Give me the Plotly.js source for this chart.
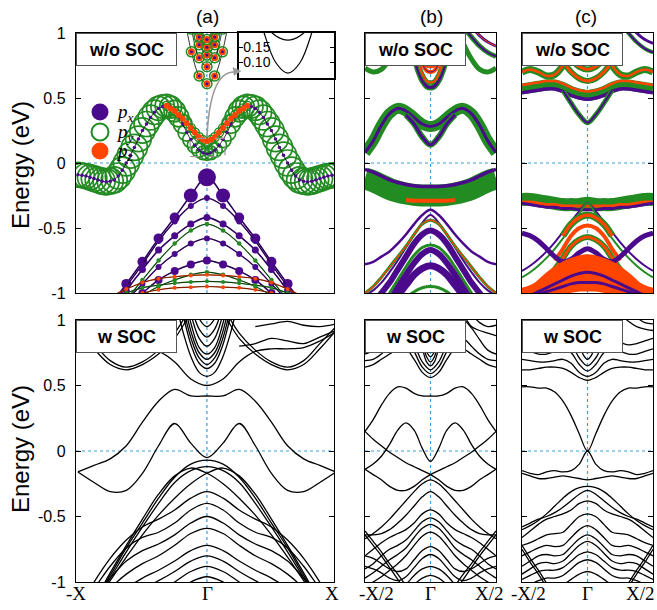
<!DOCTYPE html>
<html><head><meta charset="utf-8">
<script src="https://cdn.plot.ly/plotly-3.0.1.min.js"></script>
<style>html,body{margin:0;padding:0;background:#fff}#chart{width:657px;height:610px}</style>
</head><body><div id="chart"></div>
<script>
// ---------- k grids ----------
const K17 = [-1,-0.875,-0.75,-0.625,-0.5,-0.375,-0.25,-0.125,0,0.125,0.25,0.375,0.5,0.625,0.75,0.875,1];
const K65 = [-1,-0.96875,-0.9375,-0.90625,-0.875,-0.84375,-0.8125,-0.78125,-0.75,-0.71875,-0.6875,-0.65625,-0.625,-0.59375,-0.5625,-0.53125,-0.5,-0.46875,-0.4375,-0.40625,-0.375,-0.34375,-0.3125,-0.28125,-0.25,-0.21875,-0.1875,-0.15625,-0.125,-0.09375,-0.0625,-0.03125,0,0.03125,0.0625,0.09375,0.125,0.15625,0.1875,0.21875,0.25,0.28125,0.3125,0.34375,0.375,0.40625,0.4375,0.46875,0.5,0.53125,0.5625,0.59375,0.625,0.65625,0.6875,0.71875,0.75,0.78125,0.8125,0.84375,0.875,0.90625,0.9375,0.96875,1];
const KV = [-0.3125,-0.28125,-0.25,-0.21875,-0.1875,-0.15625,-0.125,-0.09375,-0.0625,-0.03125,0,0.03125,0.0625,0.09375,0.125,0.15625,0.1875,0.21875,0.25,0.28125,0.3125];
const KC = [-0.24,-0.18,-0.12,-0.06,0,0.06,0.12,0.18,0.24];
const KI = [-0.1,-0.075,-0.05,-0.025,0,0.025,0.05,0.075,0.1];
const yTicks = [-1,-0.5,0,0.5,1];
const yTickText = ['-1','-0.5','0','0.5','1'];

// ---------- (a) w/o SOC ----------
const aGreen = [-0.09,-0.095,-0.10,-0.11,-0.12,-0.13,-0.14,-0.145,-0.14,-0.13,-0.10,-0.055,0.0,0.06,0.12,0.185,0.25,0.30,0.35,0.39,0.42,0.435,0.44,0.43,0.40,0.355,0.30,0.235,0.18,0.135,0.10,0.078,0.07,0.078,0.10,0.135,0.18,0.235,0.30,0.355,0.40,0.43,0.44,0.435,0.42,0.39,0.35,0.30,0.25,0.185,0.12,0.06,0.0,-0.055,-0.10,-0.13,-0.14,-0.145,-0.14,-0.13,-0.12,-0.11,-0.10,-0.095,-0.09];
const aGreenPy = [0.95,0.95,0.96,0.97,0.98,0.99,1,1,1,1,1,1,1,1,1,0.98,0.97,0.96,0.95,0.94,0.92,0.9,0.88,0.85,0.82,0.77,0.72,0.67,0.62,0.58,0.55,0.52,0.5,0.52,0.55,0.58,0.62,0.67,0.72,0.77,0.82,0.85,0.88,0.9,0.92,0.94,0.95,0.96,0.97,0.98,1,1,1,1,1,1,1,1,1,0.99,0.98,0.97,0.96,0.95,0.95];
const aV2 = [0.44,0.42,0.40,0.37,0.34,0.305,0.27,0.235,0.20,0.178,0.17,0.178,0.20,0.235,0.27,0.305,0.34,0.37,0.40,0.42,0.44];
const aCond = [
  [1.6,1.16,0.855,0.67,0.61,0.67,0.855,1.16,1.6],
  [1.9,1.39,1.03,0.81,0.74,0.81,1.03,1.39,1.9],
  [2.0,1.5,1.15,0.91,0.83,0.91,1.15,1.5,2.0],
  [2.1,1.6,1.2,0.97,0.89,0.97,1.2,1.6,2.1],
  [2.2,1.7,1.3,1.03,0.95,1.03,1.3,1.7,2.2]
];
const aVal = [
  [-1.5,-1.3,-1.1,-0.93,-0.76,-0.58,-0.42,-0.25,-0.11,-0.25,-0.42,-0.58,-0.76,-0.93,-1.1,-1.3,-1.5],
  [-1.5,-1.3,-1.12,-0.95,-0.78,-0.6,-0.45,-0.33,-0.27,-0.33,-0.45,-0.6,-0.78,-0.95,-1.12,-1.3,-1.5],
  [-1.5,-1.3,-1.15,-0.98,-0.82,-0.67,-0.56,-0.47,-0.42,-0.47,-0.56,-0.67,-0.82,-0.98,-1.15,-1.3,-1.5],
  [-1.5,-1.35,-1.2,-1.05,-0.9,-0.75,-0.62,-0.52,-0.47,-0.52,-0.62,-0.75,-0.9,-1.05,-1.2,-1.35,-1.5],
  [-1.5,-1.35,-1.2,-1.06,-0.93,-0.8,-0.7,-0.62,-0.58,-0.62,-0.7,-0.8,-0.93,-1.06,-1.2,-1.35,-1.5],
  [-1.5,-1.35,-1.2,-1.1,-1.0,-0.9,-0.83,-0.78,-0.75,-0.78,-0.83,-0.9,-1.0,-1.1,-1.2,-1.35,-1.5],
  [-1.5,-1.35,-1.2,-1.1,-1.02,-0.95,-0.9,-0.86,-0.84,-0.86,-0.9,-0.95,-1.02,-1.1,-1.2,-1.35,-1.5],
  [-1.2,-1.1,-1.03,-0.97,-0.92,-0.89,-0.875,-0.865,-0.86,-0.865,-0.875,-0.89,-0.92,-0.97,-1.03,-1.1,-1.2],
  [-1.2,-1.1,-1.05,-1.0,-0.96,-0.94,-0.925,-0.915,-0.91,-0.915,-0.925,-0.94,-0.96,-1.0,-1.05,-1.1,-1.2],
  [-1.2,-1.15,-1.08,-1.03,-1.0,-0.975,-0.96,-0.955,-0.95,-0.955,-0.96,-0.975,-1.0,-1.03,-1.08,-1.15,-1.2]
];
const insetLow = [0.6,0.364,0.197,0.097,0.063,0.097,0.197,0.364,0.6];
const insetUp = [0.39,0.295,0.227,0.187,0.173,0.187,0.227,0.295,0.39];
const legendNames = ['<i>p</i><sub><i>x</i></sub>','<i>p</i><sub><i>y</i></sub>','<i>p</i><sub><i>z</i></sub>'];

// ---------- (b) w/o SOC ----------
const bTopM = [0.08,0.17,0.29,0.38,0.42,0.40,0.35,0.30,0.28,0.30,0.35,0.40,0.42,0.38,0.29,0.17,0.08];
const bTopV = [null,null,null,null,null,0.37,0.30,0.20,0.14,0.20,0.30,0.37,null,null,null,null,null];
const bMid = [-0.12,-0.14,-0.17,-0.20,-0.22,-0.235,-0.245,-0.25,-0.25,-0.25,-0.245,-0.235,-0.22,-0.20,-0.17,-0.14,-0.12];
const bMidPx = [-0.05,-0.07,-0.10,-0.13,-0.15,-0.165,-0.175,-0.18,-0.18,-0.18,-0.175,-0.165,-0.15,-0.13,-0.10,-0.07,-0.05];
const bMidPz = [null,null,null,null,null,-0.285,-0.29,-0.29,-0.29,-0.29,-0.29,-0.285,null,null,null,null,null];
const bEdge1 = [0.73,0.70,0.72,0.80,0.92,1.08,null,null,null,null,null,1.08,0.92,0.80,0.72,0.70,0.73];
const bEdge2 = [0.82,0.85,0.90,0.97,1.05,null,null,null,null,null,null,null,1.05,0.97,0.90,0.85,0.82];
const bEdge3 = [0.90,0.93,0.98,1.05,null,null,null,null,null,null,null,null,null,1.05,0.98,0.93,0.90];
const bCond = [
  [0.80,0.70,0.63,0.59,0.58,0.59,0.63,0.70,0.80],
  [0.86,0.76,0.68,0.63,0.62,0.63,0.68,0.76,0.86],
  [0.94,0.84,0.76,0.71,0.70,0.71,0.76,0.84,0.94],
  [1.0,0.89,0.80,0.75,0.74,0.75,0.80,0.89,1.0],
  [1.08,0.96,0.86,0.81,0.80,0.81,0.86,0.96,1.08]
];
const bVal = [
  [-0.78,-0.76,-0.72,-0.68,-0.62,-0.55,-0.47,-0.4,-0.36,-0.4,-0.47,-0.55,-0.62,-0.68,-0.72,-0.76,-0.78],
  [-1.02,-0.98,-0.92,-0.84,-0.75,-0.65,-0.55,-0.46,-0.4,-0.46,-0.55,-0.65,-0.75,-0.84,-0.92,-0.98,-1.02],
  [-1.0,-0.95,-0.88,-0.8,-0.72,-0.64,-0.55,-0.47,-0.44,-0.47,-0.55,-0.64,-0.72,-0.8,-0.88,-0.95,-1.0],
  [-1.12,-1.08,-1.0,-0.92,-0.82,-0.72,-0.62,-0.55,-0.52,-0.55,-0.62,-0.72,-0.82,-0.92,-1.0,-1.08,-1.12],
  [-1.2,-1.15,-1.1,-1.0,-0.9,-0.8,-0.71,-0.65,-0.63,-0.65,-0.71,-0.8,-0.9,-1.0,-1.1,-1.15,-1.2],
  [-1.25,-1.2,-1.15,-1.06,-0.96,-0.86,-0.77,-0.7,-0.67,-0.7,-0.77,-0.86,-0.96,-1.06,-1.15,-1.2,-1.25],
  [-1.3,-1.25,-1.2,-1.1,-1.02,-0.94,-0.86,-0.81,-0.79,-0.81,-0.86,-0.94,-1.02,-1.1,-1.2,-1.25,-1.3],
  [-1.3,-1.25,-1.2,-1.15,-1.1,-1.04,-0.99,-0.96,-0.95,-0.96,-0.99,-1.04,-1.1,-1.15,-1.2,-1.25,-1.3]
];

// ---------- (c) w/o SOC ----------
const cTop = [0.57,0.58,0.59,0.60,0.60,0.58,0.55,0.53,0.52,0.53,0.55,0.58,0.60,0.60,0.59,0.58,0.57];
const cTopPx = [0.54,0.55,0.56,0.57,0.57,0.55,0.52,0.50,0.49,0.50,0.52,0.55,0.57,0.57,0.56,0.55,0.54];
const cTopPz = [0.60,0.61,0.62,0.63,0.63,0.61,0.58,0.56,0.55,0.56,0.58,0.61,0.63,0.63,0.62,0.61,0.60];
const cV = [null,null,null,null,null,0.56,0.46,0.37,0.31,0.37,0.46,0.56,null,null,null,null,null];
const cU1 = [null,null,null,null,null,0.78,0.70,0.65,0.63,0.65,0.70,0.78,null,null,null,null,null];
const cU2 = [null,null,null,null,null,0.90,0.80,0.74,0.72,0.74,0.80,0.90,null,null,null,null,null];
const cEdge1 = [0.70,0.72,0.70,0.67,0.68,0.75,null,null,null,null,null,0.75,0.68,0.67,0.70,0.72,0.70];
const cEdge2 = [0.85,0.88,0.93,1.0,1.08,null,null,null,null,null,null,null,1.08,1.0,0.93,0.88,0.85];
const cEdge3 = [0.92,0.95,1.0,1.08,null,null,null,null,null,null,null,null,null,1.08,1.0,0.95,0.92];
const cMid = [-0.28,-0.28,-0.29,-0.30,-0.31,-0.32,-0.32,-0.32,-0.31,-0.32,-0.32,-0.32,-0.31,-0.30,-0.29,-0.28,-0.28];
const cMidPx = [-0.31,-0.32,-0.33,-0.34,-0.34,-0.35,-0.35,-0.36,-0.36,-0.36,-0.35,-0.35,-0.34,-0.34,-0.33,-0.32,-0.31];
const cMidPz = [-0.30,-0.30,-0.31,-0.32,-0.32,-0.33,-0.33,-0.33,-0.33,-0.33,-0.33,-0.33,-0.32,-0.32,-0.31,-0.30,-0.30];
const cLam1 = [-0.83,-0.79,-0.74,-0.68,-0.61,-0.53,-0.45,-0.37,-0.31,-0.37,-0.45,-0.53,-0.61,-0.68,-0.74,-0.79,-0.83];
const cLam2 = [-0.88,-0.84,-0.79,-0.73,-0.66,-0.58,-0.49,-0.39,-0.31,-0.39,-0.49,-0.58,-0.66,-0.73,-0.79,-0.84,-0.88];
const cIn1 = [null,null,null,null,null,-0.56,-0.47,-0.42,-0.40,-0.42,-0.47,-0.56,null,null,null,null,null];
const cIn2 = [null,null,null,null,-0.75,-0.66,-0.56,-0.50,-0.48,-0.50,-0.56,-0.66,-0.75,null,null,null,null];
const cIn3 = [null,null,null,-0.9,-0.82,-0.73,-0.64,-0.59,-0.57,-0.59,-0.64,-0.73,-0.82,-0.9,null,null,null];
const cIn4 = [-0.54,-0.56,-0.6,-0.66,-0.72,-0.76,-0.74,-0.69,-0.66,-0.69,-0.74,-0.76,-0.72,-0.66,-0.6,-0.56,-0.54];
const cBot = [
  [-1.05,-1.0,-0.95,-0.89,-0.84,-0.8,-0.77,-0.75,-0.74,-0.75,-0.77,-0.8,-0.84,-0.89,-0.95,-1.0,-1.05],
  [-1.0,-0.98,-0.95,-0.92,-0.89,-0.86,-0.83,-0.81,-0.8,-0.81,-0.83,-0.86,-0.89,-0.92,-0.95,-0.98,-1.0],
  [-1.0,-0.99,-0.97,-0.95,-0.93,-0.91,-0.89,-0.88,-0.88,-0.88,-0.89,-0.91,-0.93,-0.95,-0.97,-0.99,-1.0],
  [-1.0,-1.0,-1.0,-0.99,-0.98,-0.97,-0.96,-0.95,-0.95,-0.95,-0.96,-0.97,-0.98,-0.99,-1.0,-1.0,-1.0]
];
const cBotPx = [
  [-1.05,-1.02,-0.99,-0.96,-0.93,-0.9,-0.87,-0.85,-0.84,-0.85,-0.87,-0.9,-0.93,-0.96,-0.99,-1.02,-1.05],
  [-1.05,-1.03,-1.01,-0.99,-0.97,-0.95,-0.93,-0.92,-0.92,-0.92,-0.93,-0.95,-0.97,-0.99,-1.01,-1.03,-1.05]
];

// ---------- (a) w SOC ----------
const sBands = [
  [-0.16,-0.11,-0.06,0.04,0.22,0.38,0.47,0.42,0.42,0.42,0.47,0.38,0.22,0.04,-0.06,-0.11,-0.16],
  [-0.16,-0.24,-0.31,-0.3,-0.17,0.04,0.21,0.06,-0.05,0.06,0.21,0.04,-0.17,-0.3,-0.31,-0.24,-0.16],
  [-1.35,-1.15,-0.95,-0.74,-0.55,-0.36,-0.2,-0.1,-0.07,-0.1,-0.2,-0.36,-0.55,-0.74,-0.95,-1.15,-1.35],
  [-1.37,-1.17,-0.97,-0.77,-0.58,-0.4,-0.24,-0.15,-0.12,-0.15,-0.24,-0.4,-0.58,-0.77,-0.97,-1.17,-1.37],
  [-1.35,-1.15,-0.93,-0.72,-0.52,-0.33,-0.19,-0.13,-0.17,-0.25,-0.36,-0.49,-0.64,-0.81,-0.99,-1.17,-1.35],
  [-1.35,-1.17,-0.99,-0.81,-0.64,-0.49,-0.36,-0.25,-0.17,-0.13,-0.19,-0.33,-0.52,-0.72,-0.93,-1.15,-1.35],
  [-1.2,-1.0,-0.82,-0.68,-0.58,-0.52,-0.45,-0.36,-0.31,-0.36,-0.45,-0.52,-0.58,-0.68,-0.82,-1.0,-1.2],
  [-1.2,-1.05,-0.88,-0.74,-0.66,-0.62,-0.55,-0.45,-0.4,-0.45,-0.55,-0.62,-0.66,-0.74,-0.88,-1.05,-1.2],
  [-1.25,-1.1,-0.97,-0.84,-0.76,-0.71,-0.64,-0.55,-0.5,-0.55,-0.64,-0.71,-0.76,-0.84,-0.97,-1.1,-1.25],
  [-1.3,-1.2,-1.05,-0.94,-0.86,-0.8,-0.72,-0.63,-0.59,-0.63,-0.72,-0.8,-0.86,-0.94,-1.05,-1.2,-1.3],
  [-1.35,-1.25,-1.15,-1.05,-0.97,-0.91,-0.84,-0.76,-0.72,-0.76,-0.84,-0.91,-0.97,-1.05,-1.15,-1.25,-1.35],
  [-1.4,-1.3,-1.2,-1.1,-1.05,-0.99,-0.92,-0.84,-0.8,-0.84,-0.92,-0.99,-1.05,-1.1,-1.2,-1.3,-1.4],
  [-1.5,-1.4,-1.3,-1.2,-1.15,-1.08,-1.0,-0.92,-0.88,-0.92,-1.0,-1.08,-1.15,-1.2,-1.3,-1.4,-1.5],
  [-1.6,-1.5,-1.4,-1.3,-1.2,-1.15,-1.08,-1.0,-0.96,-1.0,-1.08,-1.15,-1.2,-1.3,-1.4,-1.5,-1.6],
  [0.91,0.84,0.79,0.78,0.78,0.76,0.68,0.55,0.5,0.55,0.68,0.76,0.78,0.78,0.79,0.84,0.91],
  [0.92,0.78,0.66,0.62,0.66,0.74,0.86,1.05,1.2,1.05,0.86,0.74,0.66,0.62,0.66,0.78,0.92],
  [0.95,0.82,0.69,0.64,0.68,0.77,0.9,1.1,1.3,1.1,0.9,0.77,0.68,0.64,0.69,0.82,0.95],
  [0.92,0.87,0.82,0.84,0.86,0.82,0.8,null,null,null,0.8,0.82,0.86,0.84,0.82,0.87,0.92],
  [0.97,0.95,0.96,0.99,0.97,0.95,null,null,null,null,null,0.95,0.97,0.99,0.96,0.95,0.97]
];
const sCond = [
  [1.13,0.89,0.71,0.60,0.57,0.60,0.71,0.89,1.13],
  [1.32,1.02,0.80,0.67,0.63,0.67,0.80,1.02,1.32],
  [1.4,1.08,0.85,0.71,0.66,0.71,0.85,1.08,1.4],
  [1.5,1.15,0.90,0.75,0.70,0.75,0.90,1.15,1.5],
  [1.6,1.22,0.96,0.79,0.74,0.79,0.96,1.22,1.6],
  [1.7,1.3,1.03,0.86,0.80,0.86,1.03,1.3,1.7],
  [1.8,1.4,1.1,0.93,0.87,0.93,1.1,1.4,1.8],
  [1.9,1.5,1.2,1.01,0.95,1.01,1.2,1.5,1.9]
];

// ---------- (b) w SOC ----------
const bsBands = [
  [0.15,0.24,0.35,0.44,0.49,0.48,0.44,0.42,0.42,0.42,0.44,0.48,0.49,0.44,0.35,0.24,0.15],
  [-0.14,-0.10,-0.04,0.05,0.16,0.215,0.16,0.02,-0.08,0.02,0.16,0.215,0.16,0.05,-0.04,-0.10,-0.14],
  [0.15,0.09,0.04,-0.01,-0.05,-0.09,-0.12,-0.15,-0.18,-0.22,-0.27,-0.30,-0.30,-0.27,-0.22,-0.18,-0.14],
  [-0.14,-0.18,-0.22,-0.27,-0.30,-0.30,-0.27,-0.22,-0.18,-0.15,-0.12,-0.09,-0.05,-0.01,0.04,0.09,0.15],
  [-0.67,-0.63,-0.58,-0.52,-0.45,-0.38,-0.31,-0.25,-0.22,-0.25,-0.31,-0.38,-0.45,-0.52,-0.58,-0.63,-0.67],
  [-0.64,-0.64,-0.63,-0.6,-0.55,-0.49,-0.42,-0.35,-0.31,-0.35,-0.42,-0.49,-0.55,-0.6,-0.63,-0.64,-0.64],
  [-0.8,-0.75,-0.7,-0.66,-0.63,-0.6,-0.55,-0.48,-0.45,-0.48,-0.55,-0.6,-0.63,-0.66,-0.7,-0.75,-0.8],
  [-0.9,-0.86,-0.8,-0.75,-0.72,-0.68,-0.61,-0.54,-0.51,-0.54,-0.61,-0.68,-0.72,-0.75,-0.8,-0.86,-0.9],
  [-0.97,-0.93,-0.88,-0.83,-0.79,-0.74,-0.66,-0.59,-0.56,-0.59,-0.66,-0.74,-0.79,-0.83,-0.88,-0.93,-0.97],
  [-1.04,-1.0,-0.96,-0.91,-0.86,-0.8,-0.72,-0.65,-0.62,-0.65,-0.72,-0.8,-0.86,-0.91,-0.96,-1.0,-1.04],
  [-0.8,-0.82,-0.86,-0.9,-0.92,-0.9,-0.83,-0.76,-0.73,-0.76,-0.83,-0.9,-0.92,-0.9,-0.86,-0.82,-0.8],
  [-0.88,-0.9,-0.93,-0.97,-0.99,-0.96,-0.89,-0.82,-0.79,-0.82,-0.89,-0.96,-0.99,-0.97,-0.93,-0.9,-0.88],
  [-1.25,-1.2,-1.15,-1.12,-1.08,-1.02,-0.95,-0.9,-0.88,-0.9,-0.95,-1.02,-1.08,-1.12,-1.15,-1.2,-1.25],
  [-1.3,-1.25,-1.2,-1.15,-1.12,-1.08,-1.02,-0.97,-0.95,-0.97,-1.02,-1.08,-1.12,-1.15,-1.2,-1.25,-1.3],
  [-0.61,-0.69,-0.77,-0.86,-0.94,-1.03,null,null,null,null,null,-1.03,-0.94,-0.86,-0.77,-0.69,-0.61],
  [-0.64,-0.72,-0.80,-0.89,-0.98,-1.07,null,null,null,null,null,-1.07,-0.98,-0.89,-0.80,-0.72,-0.64],
  [0.64,0.66,0.7,0.74,0.78,0.78,0.7,0.6,0.56,0.6,0.7,0.78,0.78,0.74,0.7,0.66,0.64],
  [0.69,0.7,0.74,0.8,0.86,0.86,0.76,0.64,0.59,0.64,0.76,0.86,0.86,0.8,0.74,0.7,0.69],
  [0.74,0.77,0.85,0.94,1.0,0.95,0.82,0.68,0.62,0.68,0.82,0.95,1.0,0.94,0.85,0.77,0.74],
  [0.88,0.90,0.92,0.95,1.05,null,null,null,null,null,null,null,1.05,0.95,0.92,0.90,0.88],
  [0.96,0.95,0.98,1.05,null,null,null,null,null,null,null,null,null,1.05,0.98,0.95,0.96]
];
const bsCond = [
  [1.2,0.95,0.78,0.68,0.65,0.68,0.78,0.95,1.2],
  [1.3,1.02,0.83,0.72,0.68,0.72,0.83,1.02,1.3],
  [1.4,1.08,0.88,0.76,0.72,0.76,0.88,1.08,1.4],
  [1.5,1.14,0.93,0.80,0.76,0.80,0.93,1.14,1.5],
  [1.6,1.2,0.98,0.85,0.81,0.85,0.98,1.2,1.6],
  [1.7,1.28,1.05,0.91,0.87,0.91,1.05,1.28,1.7],
  [1.8,1.36,1.12,0.98,0.94,0.98,1.12,1.36,1.8]
];

// ---------- (c) w SOC ----------
const csBands = [
  [0.49,0.49,0.48,0.48,0.45,0.38,0.27,0.13,0.0,0.13,0.27,0.38,0.45,0.48,0.48,0.49,0.49],
  [-0.15,-0.17,-0.18,-0.16,-0.15,-0.16,-0.15,-0.10,0.0,-0.10,-0.15,-0.16,-0.15,-0.16,-0.18,-0.17,-0.15],
  [-0.17,-0.19,-0.21,-0.21,-0.20,-0.19,-0.20,-0.21,-0.22,-0.21,-0.20,-0.19,-0.20,-0.21,-0.21,-0.19,-0.17],
  [0.62,0.62,0.63,0.64,0.64,0.63,0.6,0.56,0.54,0.56,0.6,0.63,0.64,0.64,0.63,0.62,0.62],
  [0.7,0.69,0.68,0.68,0.69,0.7,0.67,0.6,0.57,0.6,0.67,0.7,0.69,0.68,0.68,0.69,0.7],
  [0.78,0.76,0.74,0.74,0.76,0.78,0.75,0.66,0.61,0.66,0.75,0.78,0.76,0.74,0.74,0.76,0.78],
  [0.86,0.84,0.82,0.81,0.83,0.86,0.82,0.71,0.65,0.71,0.82,0.86,0.83,0.81,0.82,0.84,0.86],
  [0.92,0.93,0.95,0.99,1.05,null,null,null,null,null,null,null,1.05,0.99,0.95,0.93,0.92],
  [0.97,0.98,1.02,null,null,null,null,null,null,null,null,null,null,null,1.02,0.98,0.97],
  [-0.6,-0.57,-0.53,-0.48,-0.42,-0.36,-0.31,-0.28,-0.27,-0.28,-0.31,-0.36,-0.42,-0.48,-0.53,-0.57,-0.6],
  [-0.58,-0.55,-0.52,-0.5,-0.47,-0.43,-0.38,-0.33,-0.3,-0.33,-0.38,-0.43,-0.47,-0.5,-0.52,-0.55,-0.58],
  [-0.66,-0.61,-0.56,-0.52,-0.5,-0.48,-0.45,-0.4,-0.38,-0.4,-0.45,-0.48,-0.5,-0.52,-0.56,-0.61,-0.66],
  [-0.72,-0.7,-0.67,-0.64,-0.63,-0.62,-0.56,-0.5,-0.48,-0.5,-0.56,-0.62,-0.63,-0.64,-0.67,-0.7,-0.72],
  [-0.8,-0.77,-0.74,-0.72,-0.73,-0.72,-0.66,-0.6,-0.57,-0.6,-0.66,-0.72,-0.73,-0.72,-0.74,-0.77,-0.8],
  [-0.88,-0.84,-0.8,-0.79,-0.8,-0.79,-0.73,-0.67,-0.64,-0.67,-0.73,-0.79,-0.8,-0.79,-0.8,-0.84,-0.88],
  [-0.94,-0.9,-0.86,-0.85,-0.86,-0.84,-0.78,-0.72,-0.69,-0.72,-0.78,-0.84,-0.86,-0.85,-0.86,-0.9,-0.94],
  [-0.98,-0.95,-0.92,-0.91,-0.91,-0.89,-0.84,-0.79,-0.77,-0.79,-0.84,-0.89,-0.91,-0.91,-0.92,-0.95,-0.98],
  [-1.05,-1.02,-0.99,-0.97,-0.97,-0.95,-0.9,-0.85,-0.83,-0.85,-0.9,-0.95,-0.97,-0.97,-0.99,-1.02,-1.05],
  [-1.12,-1.1,-1.07,-1.05,-1.04,-1.02,-0.98,-0.94,-0.92,-0.94,-0.98,-1.02,-1.04,-1.05,-1.07,-1.1,-1.12],
  [-0.72,-0.82,-0.91,-1.01,null,null,null,null,null,null,null,null,null,-1.01,-0.91,-0.82,-0.72],
  [-0.75,-0.85,-0.94,-1.04,null,null,null,null,null,null,null,null,null,-1.04,-0.94,-0.85,-0.75]
];
const csCond = [
  [1.3,1.0,0.82,0.73,0.70,0.73,0.82,1.0,1.3],
  [1.4,1.07,0.87,0.78,0.75,0.78,0.87,1.07,1.4],
  [1.5,1.13,0.92,0.83,0.80,0.83,0.92,1.13,1.5],
  [1.6,1.2,0.99,0.90,0.87,0.90,0.99,1.2,1.6]
];

// ---------- drawing ----------
const PU = '#4b0a8c', GR = '#228b22', OR = '#ff4500', BK = '#000';
const T = [];
function ax(n){ return n === 1 ? '' : String(n); }
function ln(n, k, y, color, width){
  T.push({type:'scatter', mode:'lines', x:k, y:y, xaxis:'x'+ax(n), yaxis:'y'+ax(n),
    line:{color:color, width:width, shape:'spline', smoothing:1}, connectgaps:false,
    showlegend:false, hoverinfo:'skip'});
}
function mk(n, k, y, color, size, open, lw){
  T.push({type:'scatter', mode:'markers', x:k, y:y, xaxis:'x'+ax(n), yaxis:'y'+ax(n),
    marker:{color:color, size:size, opacity:1, symbol: open ? 'circle-open' : 'circle', line:{width: open ? (lw||1.8) : 0, color:color}},
    showlegend:false, hoverinfo:'skip'});
}

// (a) top
const aValStyle = [[PU,1.6,10],[PU,1.4,6],[PU,1.6,7],[GR,1.2,4.5],[PU,1.4,6],[PU,1.6,8],[GR,1.2,4.5],[OR,1.2,4],[GR,1.2,4],[OR,1.2,4]];
aVal.forEach((v,i) => { const s = aValStyle[i]; ln(1, K17, v, s[0], s[1]); ln(1, K17, v, BK, 0.6);
  mk(1, K17, v, s[0], i === 0 ? K17.map(k => s[2] + 8*Math.max(0, 1 - 4*Math.abs(k))) : s[2]); });
mk(1, K65, aGreen, GR, aGreenPy.map(w => 26*w), true, 1.7);
mk(1, KV, aV2, GR, 9, true, 1.4);
ln(1, K65, aGreen, BK, 0.8);
ln(1, KV, aV2, BK, 0.8);
mk(1, K65, aGreen, PU, 3.5);
mk(1, KV, aV2, OR, 6);
aCond.forEach(c => { ln(1, KC, c, BK, 0.8); mk(1, KC, c, GR, 10, true, 1.5); mk(1, KC, c, OR, 7); mk(1, KC, c, PU, 3); });

// (b) top
ln(2, K17, bMid, GR, 22);
ln(2, K17, bMidPx, PU, 3.5);
ln(2, K17, bMidPz, OR, 4);
ln(2, K17, bTopM, GR, 11);
ln(2, K17, bTopM, PU, 3);
ln(2, K17, bTopV, GR, 6);
ln(2, K17, bTopV, PU, 3);
ln(2, K17, bEdge1, GR, 5);
ln(2, K17, bEdge2, GR, 5); ln(2, K17, bEdge2, PU, 2);
ln(2, K17, bEdge3, PU, 3); ln(2, K17, bEdge3, OR, 1);
const bCondStyle = [[GR,6,PU,3],[GR,4,OR,2],[OR,4,PU,1],[GR,3,OR,3],[GR,3,PU,2]];
bCond.forEach((c,i) => { const s = bCondStyle[i]; ln(2, KC, c, s[0], s[1]); ln(2, KC, c, s[2], s[3]); });
const bValStyle = [[PU,2.5],[PU,2],[GR,3],[PU,6],[GR,3],[PU,6],[PU,7],[GR,3]];
bVal.forEach((v,i) => { const s = bValStyle[i]; ln(2, K17, v, s[0], s[1]); });
ln(2, K17, bVal[2], OR, 1.2);

// (c) top
ln(3, K17, cTop, GR, 11);
ln(3, K17, cTopPz, OR, 2.5);
ln(3, K17, cTopPx, PU, 3.5);
ln(3, K17, cV, GR, 5); ln(3, K17, cV, PU, 2);
ln(3, K17, cU1, GR, 6); ln(3, K17, cU1, OR, 3);
ln(3, K17, cU2, GR, 6); ln(3, K17, cU2, OR, 3);
ln(3, K17, cEdge1, GR, 7); ln(3, K17, cEdge1, OR, 2.5);
ln(3, K17, cEdge2, GR, 4); ln(3, K17, cEdge2, PU, 2);
ln(3, K17, cEdge3, PU, 3);
ln(3, K17, cMid, GR, 13);
ln(3, K17, cMidPz, OR, 3);
ln(3, K17, cMidPx, PU, 3);
ln(3, K17, cLam1, PU, 2);
ln(3, K17, cLam2, GR, 2);
ln(3, K17, cIn1, GR, 7); ln(3, K17, cIn1, OR, 3.5);
ln(3, K17, cIn2, OR, 4);
ln(3, K17, cIn3, GR, 6); ln(3, K17, cIn3, OR, 3);
ln(3, K17, cIn4, PU, 5);
cBot.forEach(v => ln(3, K17, v, OR, 10));
cBotPx.forEach(v => ln(3, K17, v, PU, 3));

// bottom row
sBands.forEach(v => ln(4, K17, v, BK, 1.3));
sCond.forEach(v => ln(4, KC, v, BK, 1.3));
bsBands.forEach(v => ln(5, K17, v, BK, 1.3));
bsCond.forEach(v => ln(5, KC, v, BK, 1.3));
csBands.forEach(v => ln(6, K17, v, BK, 1.3));
csCond.forEach(v => ln(6, KC, v, BK, 1.3));

// inset
ln(7, KI, insetLow, BK, 1.2);
ln(7, KI, insetUp, BK, 1.2);

// ---------- layout ----------
const W = 657, H = 610;
const px = v => v / W, py = v => 1 - v / H;
const colA = [px(76), px(334)], colB = [px(365), px(496)], colC = [px(522), px(653)];
const rowT = [py(293), py(33)], rowB = [py(582), py(320)];
const FONT = 'Liberation Sans, Arial, sans-serif';
const SERIF = 'Liberation Serif, Times New Roman, serif';
function xa(dom, anchor, range){
  return {domain:dom, anchor:anchor, range:range, showline:true, mirror:true, linecolor:'#000', linewidth:1.2,
    ticks:'', showticklabels:false, zeroline:false, showgrid:false, fixedrange:true};
}
function ya(dom, anchor, labels){
  return {domain:dom, anchor:anchor, range:[-1,1], showline:true, mirror:'ticks', linecolor:'#000', linewidth:1.2,
    ticks:'inside', ticklen:5, tickwidth:1, tickcolor:'#000', tickvals:yTicks, ticktext:yTickText,
    showticklabels:labels, ticklabelstandoff:6, tickfont:{family:FONT, size:16, color:'#000'},
    zeroline:false, showgrid:false, fixedrange:true};
}
const layout = {
  width:W, height:H, autosize:false, margin:{l:0, r:0, t:0, b:0},
  paper_bgcolor:'#fff', plot_bgcolor:'#fff', font:{family:FONT, color:'#000'},
  showlegend:false, hovermode:false,
  xaxis: xa(colA, 'y', [-1.015, 0.985]),  yaxis: ya(rowT, 'x', true),
  xaxis2: xa(colB, 'y2', [-1, 1]),        yaxis2: ya(rowT, 'x2', false),
  xaxis3: xa(colC, 'y3', [-1, 1]),        yaxis3: ya(rowT, 'x3', false),
  xaxis4: xa(colA, 'y4', [-1.015, 0.985]),yaxis4: ya(rowB, 'x4', true),
  xaxis5: xa(colB, 'y5', [-1, 1]),        yaxis5: ya(rowB, 'x5', false),
  xaxis6: xa(colC, 'y6', [-1, 1]),        yaxis6: ya(rowB, 'x6', false),
  xaxis7: {domain:[px(239), px(334)], anchor:'y7', range:[-0.103, 0.097], showline:true, mirror:true, linecolor:'#000', linewidth:1.6,
    ticks:'', showticklabels:false, zeroline:false, showgrid:false, fixedrange:true},
  yaxis7: {domain:[py(78), py(33)], anchor:'x7', range:[0.047, 0.197], showline:true, mirror:'ticks', linecolor:'#000', linewidth:1.6,
    ticks:'inside', ticklen:4, tickcolor:'#000', tickvals:[0.10, 0.15], ticktext:['0.10','0.15'], ticklabelposition:'inside',
    tickfont:{family:FONT, size:14, color:'#000'}, zeroline:false, showgrid:false, fixedrange:true},
  shapes:[], annotations:[]
};
const BLUE = '#3a9ee0';
['', '2', '3', '4', '5', '6', '7'].forEach(s => {
  layout.shapes.push({type:'line', xref:'x'+s, yref:'y'+s+' domain', x0:0, x1:0, y0:0, y1:1, layer:'below', line:{color:BLUE, width:1.2, dash:'dot'}});
  if (s !== '7') layout.shapes.push({type:'line', xref:'x'+s+' domain', yref:'y'+s, x0:0, x1:1, y0:0, y1:0, layer:'below', line:{color:BLUE, width:1.2, dash:'dot'}});
});
// dashed zoom box and curved arrow
layout.shapes.push({type:'rect', xref:'x', yref:'y', x0:-0.13, x1:0.14, y0:0.05, y1:0.19, layer:'above', line:{color:'#999', width:1.2, dash:'dash'}});
layout.shapes.push({type:'path', xref:'paper', yref:'paper', layer:'above',
  path:`M ${px(207)},${py(137)} Q ${px(210)},${py(72)} ${px(234)},${py(72)}`, line:{color:'#9a9a9a', width:1.6}});
layout.shapes.push({type:'path', xref:'paper', yref:'paper', layer:'above', fillcolor:'#9a9a9a',
  path:`M ${px(241)},${py(71)} L ${px(233)},${py(67.5)} L ${px(234)},${py(75.5)} Z`, line:{color:'#9a9a9a', width:0.5}});
// legend symbols (pixel-sized circles)
const legendY = [112, 132, 151];
[[PU, true], [GR, false], [OR, true]].forEach((s, i) => {
  layout.shapes.push({type:'circle', xref:'paper', yref:'paper', xsizemode:'pixel', ysizemode:'pixel',
    xanchor:px(100), yanchor:py(legendY[i]), x0:-8.5, x1:8.5, y0:-8.5, y1:8.5, layer:'above',
    fillcolor: s[1] ? s[0] : 'rgba(0,0,0,0)', line:{color:s[0], width: s[1] ? 0 : 2}});
});

function note(text, x, y, size, extra){
  layout.annotations.push(Object.assign({text:text, xref:'paper', yref:'paper', x:px(x), y:py(y), xanchor:'center', yanchor:'middle',
    showarrow:false, font:{family:FONT, size:size, color:'#000'}}, extra||{}));
}
legendNames.forEach((t, i) => note(t, 114, legendY[i] + 1, 19, {xanchor:'left', font:{family:SERIF, size:19, color:'#000'}}));
note('(a)', 207, 16, 19); note('(b)', 431, 16, 19); note('(c)', 586, 16, 19);
note('Energy (eV)', 21, 165, 24, {textangle:-90});
note('Energy (eV)', 21, 449, 24, {textangle:-90});
const serif = {family:SERIF, size:19, color:'#000'};
[['-X',76],['Γ',207],['X',332],['-X/2',376],['Γ',430],['X/2',489],['-X/2',528],['Γ',587]].forEach(p => {
  note(p[0], p[1], 593, 19, {font:serif});
});
note('X/2', 657, 593, 19, {font:serif, xanchor:'right'});
function box(text, x, y){
  layout.annotations.push({text:'<b>'+text+'</b>', xref:'paper', yref:'paper', x:px(x), y:py(y), xanchor:'left', yanchor:'top',
    showarrow:false, width:99, height:31, bgcolor:'#fff', bordercolor:'#555', borderwidth:1, borderpad:0,
    font:{family:FONT, size:18, color:'#000'}});
}
box('w/o SOC', 76, 33); box('w/o SOC', 365, 33); box('w/o SOC', 522, 33);
box('w SOC', 76, 320); box('w SOC', 365, 320); box('w SOC', 522, 320);

Plotly.newPlot('chart', T, layout, {staticPlot:true, displayModeBar:false});
</script></body></html>
